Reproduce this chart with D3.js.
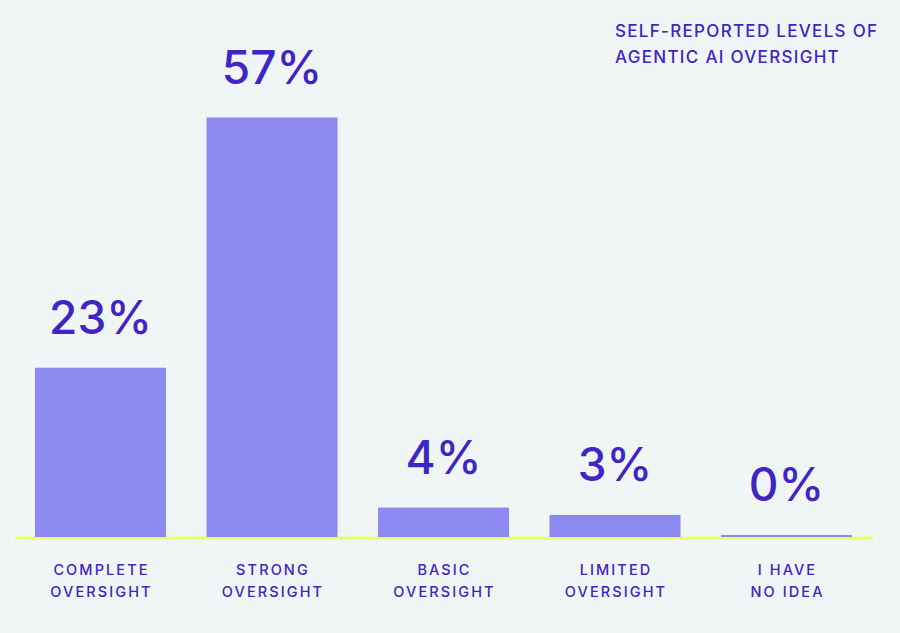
<!DOCTYPE html>
<html>
<head>
<meta charset="utf-8">
<script src="https://cdn.jsdelivr.net/npm/d3@7"></script>
<style>
    html, body { margin: 0; padding: 0; background: #f0f5f5; }
    svg { display: block; }
</style>
</head>
<body>
<div id="canvas"></div>
<script>
"use strict";

// Chart data
let categories = ["complete", "strong", "basic", "limited", "none"];
let labelLines = [
    ["COMPLETE", "OVERSIGHT"],
    ["STRONG", "OVERSIGHT"],
    ["BASIC", "OVERSIGHT"],
    ["LIMITED", "OVERSIGHT"],
    ["I HAVE", "NO IDEA"]
];
let values = [23, 57, 4, 3, 0];
let titleLines = ["SELF-REPORTED LEVELS OF", "AGENTIC AI OVERSIGHT"];

let svgWidth = 900;
let svgHeight = 633;
let baseline = 537;

let textColor = "#4124c6";
let barColor = "#8c8af0";
let lineColor = "#ecfd6c";
let fontFamily = "Inter, 'DejaVu Sans', sans-serif";

let svg = d3.select("#canvas")
    .append("svg")
    .attr("width", svgWidth)
    .attr("height", svgHeight);

svg.append("rect")
    .attr("width", svgWidth)
    .attr("height", svgHeight)
    .attr("fill", "#f0f5f5");

// Scales
let xScale = d3.scaleBand()
    .domain(categories)
    .range([35, 852])
    .paddingInner(0.236)
    .paddingOuter(0);

// ~7.36 px per percent point
let yScale = d3.scaleLinear()
    .domain([0, 57])
    .range([baseline, 117.5]);

// Baseline (yellow)
svg.append("line")
    .attr("x1", 15)
    .attr("x2", 873)
    .attr("y1", baseline + 1)
    .attr("y2", baseline + 1)
    .attr("stroke", lineColor)
    .attr("stroke-width", 3);

// Bars
svg.selectAll("rect.bar")
    .data(values)
    .join("rect")
    .classed("bar", true)
    .attr("x", function(d, i) { return xScale(categories[i]); })
    .attr("width", xScale.bandwidth())
    .attr("y", function(d) { return Math.min(yScale(d), baseline - 2); })
    .attr("height", function(d) { return Math.max(baseline - yScale(d), 2); })
    .attr("fill", barColor);

// Value labels
svg.selectAll("text.value")
    .data(values)
    .join("text")
    .classed("value", true)
    .attr("x", function(d, i) { return xScale(categories[i]) + xScale.bandwidth() / 2; })
    .attr("y", function(d) { return Math.min(yScale(d), baseline - 2) - 34; })
    .attr("text-anchor", "middle")
    .style("font-family", fontFamily)
    .style("font-size", "46px")
    .style("font-weight", 500)
    .attr("fill", textColor)
    .text(function(d) { return d + "%"; });

// Category labels (two lines each)
for (let i = 0; i < categories.length; i++) {
    let cx = xScale(categories[i]) + xScale.bandwidth() / 2;
    let label = svg.append("text")
        .attr("text-anchor", "middle")
        .style("font-family", fontFamily)
        .style("font-size", "14.5px")
        .style("font-weight", 500)
        .style("letter-spacing", "2.1px")
        .attr("fill", textColor);
    for (let j = 0; j < labelLines[i].length; j++) {
        label.append("tspan")
            .attr("x", cx + 1)
            .attr("y", 575 + j * 22)
            .text(labelLines[i][j]);
    }
}

// Title, top right
let title = svg.append("text")
    .style("font-family", fontFamily)
    .style("font-size", "17px")
    .style("font-weight", 500)
    .style("letter-spacing", "1.3px")
    .attr("fill", textColor);
for (let k = 0; k < titleLines.length; k++) {
    title.append("tspan")
        .attr("x", 615)
        .attr("y", 37 + k * 26)
        .text(titleLines[k]);
}
</script>
</body>
</html>
